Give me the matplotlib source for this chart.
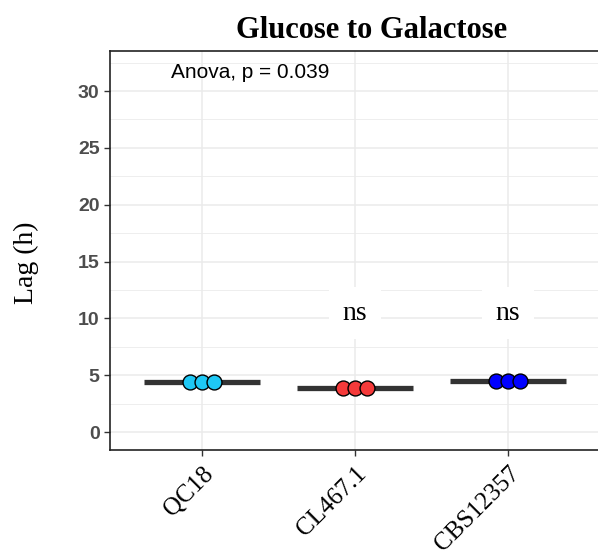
import numpy as np
import matplotlib
matplotlib.use("Agg")
import matplotlib.pyplot as plt

# data
strains = ["QC18", "CL467.1", "CBS12357"]
lag_qc18 = [4.4, 4.4, 4.4]
lag_cl467 = [3.85, 3.85, 3.85]
lag_cbs = [4.5, 4.5, 4.5]
point_colors = ["#1EC8F5", "#F53A3A", "#0000FF"]
sig_labels = ["", "ns", "ns"]
sig_y = 9.9
anova_text = "Anova, p = 0.039"

groups = [lag_qc18, lag_cl467, lag_cbs]

fig = plt.figure(figsize=(5.98, 5.52), dpi=100)
ax = fig.add_axes([110 / 598, 1 - 450 / 552, 490 / 598, (450 - 51) / 552])

ax.set_xlim(0.4, 3.6)
ax.set_ylim(-1.58, 33.52)

# grid
for y in np.arange(0, 31, 5):
    ax.axhline(y, color="#EBEBEB", lw=1.1, zorder=0)
for y in np.arange(2.5, 34, 5):
    ax.axhline(y, color="#EBEBEB", lw=0.6, zorder=0)
for i in range(len(strains)):
    ax.axvline(i + 1, color="#EBEBEB", lw=1.1, zorder=0)

offsets = [-0.08, 0.0, 0.08]
for i, (vals, col) in enumerate(zip(groups, point_colors)):
    x = i + 1
    m = np.mean(vals)
    ax.plot([x - 0.38, x + 0.38], [m, m], color="#333333", lw=3.8,
            solid_capstyle="butt", zorder=2)
    ax.scatter([x + o for o in offsets], vals, s=115, color=col,
               edgecolor="black", linewidth=1.0, zorder=3)
    if sig_labels[i]:
        ax.text(x, sig_y, sig_labels[i], ha="center", va="baseline",
                fontsize=20, family="Liberation Serif",
                bbox=dict(facecolor="white", edgecolor="none", pad=10), zorder=4)

ax.text(0.8, 31.6, anova_text, ha="left", va="center", fontsize=15,
        family="Liberation Sans", zorder=4)

ax.set_xticks(range(1, len(strains) + 1))
ax.set_xticklabels(strains, rotation=45, ha="right", rotation_mode="anchor",
                   fontsize=18, family="Liberation Serif")
ax.set_yticks(np.arange(0, 31, 5))
ax.set_yticklabels([str(v) for v in range(0, 31, 5)], fontsize=14,
                   family="Liberation Sans", fontweight="bold", color="#4D4D4D")
ax.tick_params(axis="both", length=4, color="#333333", width=1)
ax.tick_params(axis="x", pad=5)

ax.spines["right"].set_visible(False)
for s in ["left", "bottom", "top"]:
    ax.spines[s].set_color("#222222")
    ax.spines[s].set_linewidth(1.2)

ax.set_ylabel("Lag (h)", fontsize=20, family="Liberation Serif")
ax.yaxis.set_label_coords(-0.145, 0.47)
fig.text(372 / 598, 1 - 30 / 552, "Glucose to Galactose", ha="center", va="center",
         fontsize=22, fontweight="bold", family="Liberation Serif")

fig.savefig("out.png", dpi=100)
